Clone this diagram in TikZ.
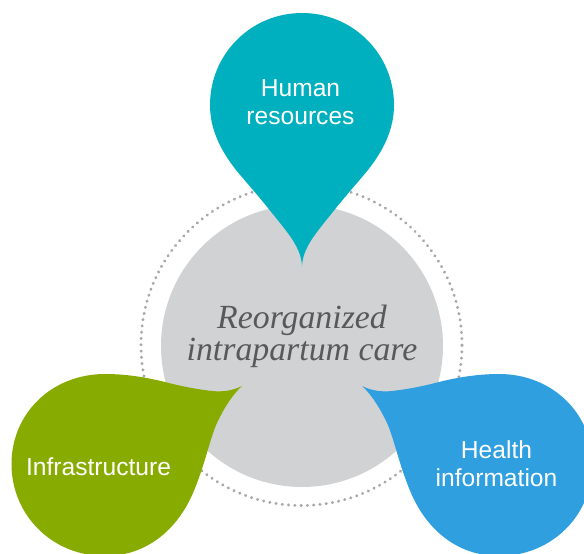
\documentclass[tikz,border=0pt]{standalone}
\usepackage{fontspec}
\setmainfont{Liberation Sans}
\newfontfamily\serifit[Ligatures=TeX]{Liberation Serif}
\definecolor{teal1}{HTML}{00B0BE}
\definecolor{green1}{HTML}{88AB00}
\definecolor{blue1}{HTML}{2F9FE0}
\definecolor{disc}{HTML}{D1D2D4}
\definecolor{dots}{HTML}{A7A8AA}
\definecolor{inktext}{HTML}{58595B}
\tikzset{
  labeltext/.style={text=white,font=\fontsize{24.6}{28}\selectfont,align=center,inner sep=0pt},
  centertext/.style={text=inktext,font=\serifit\itshape\fontsize{33.8}{32}\selectfont,align=center,inner sep=0pt},
  ring/.style={draw=dots,line width=3.2pt,line cap=round,dash pattern=on 0.1pt off 6.2pt},
}
\begin{document}
\begin{tikzpicture}[x=1pt,y=-1pt]
\useasboundingbox (0,0) rectangle (584,554);
\coordinate (c) at (302,346);
\draw[ring] (301.5,345) circle[radius=160.5pt];
\fill[disc] (c) circle[radius=141pt];
% teal drop
\fill[teal1] (302,266) .. controls (301,247) and (288,233) .. (268,208)
  .. controls (255,192) and (246,182) .. (236,170)
  .. controls (222,152) and (210,131) .. (210,105)
  .. controls (210,54) and (251,13) .. (302,13)
  .. controls (353,13) and (394,54) .. (394,105)
  .. controls (394,131) and (382,152) .. (368,170)
  .. controls (358,182) and (349,192) .. (336,208)
  .. controls (316,233) and (303,247) .. (302,266) -- cycle;
% green drop
\fill[green1] (242,386) .. controls (232,391) and (222,392) .. (212,391)
  .. controls (195,389) and (180,386) .. (165,382)
  .. controls (145,377) and (125,374) .. (105,374)
  .. controls (52,374) and (11.5,413) .. (11.5,464)
  .. controls (11.5,515) and (52,556) .. (105,556)
  .. controls (148,556) and (178,528) .. (193,493)
  .. controls (205,465) and (210,438) .. (217,423)
  .. controls (223,410) and (232,395) .. (242,386) -- cycle;
% blue drop
\fill[blue1] (362,386) .. controls (372,391) and (382,392) .. (392,391)
  .. controls (409,389) and (424,386) .. (439,382)
  .. controls (459,377) and (479,374) .. (499,374)
  .. controls (552,374) and (592.5,413) .. (592.5,464)
  .. controls (592.5,515) and (552,556) .. (499,556)
  .. controls (456,556) and (426,528) .. (411,493)
  .. controls (399,465) and (394,438) .. (387,423)
  .. controls (381,410) and (372,395) .. (362,386) -- cycle;
\node[labeltext] (hr) at (300.5,102) {Human\\resources};
\node[labeltext] (inf) at (98.5,467) {Infrastructure};
\node[labeltext] (hi) at (496.5,464) {Health\\information};
\node[centertext] (ctr) at (302,336) {Reorganized\\intrapartum care};
\end{tikzpicture}
\end{document}
